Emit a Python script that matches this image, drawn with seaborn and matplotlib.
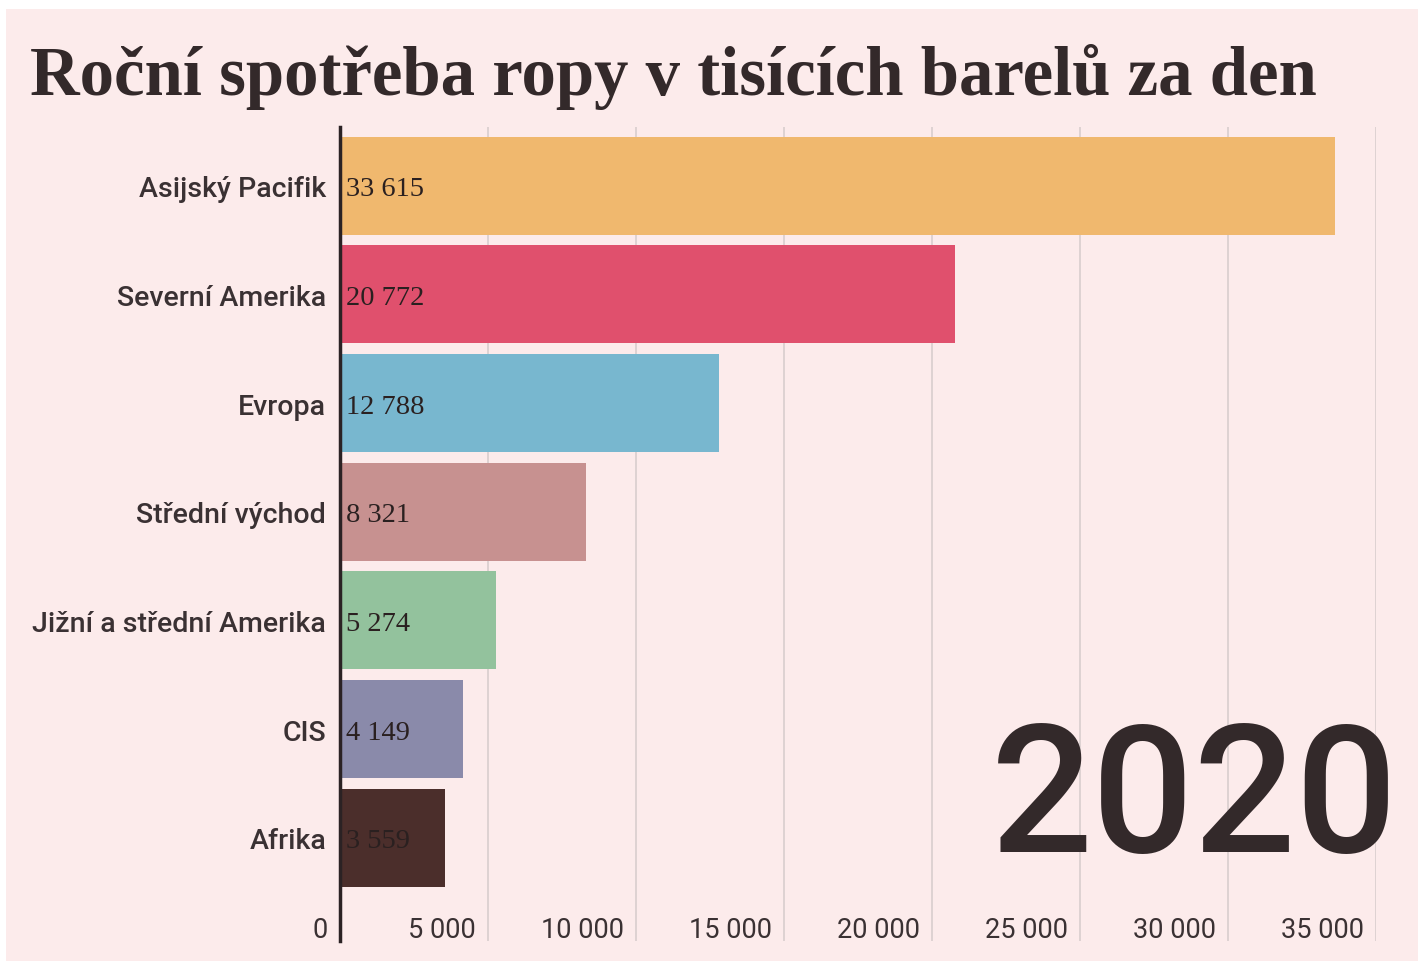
import matplotlib.pyplot as plt
import matplotlib.transforms as mtransforms
import seaborn as sns
import pandas as pd

regions = ["Asijský Pacifik", "Severní Amerika", "Evropa", "Střední východ",
           "Jižní a střední Amerika", "CIS", "Afrika"]
consumption = [33615, 20772, 12788, 8321, 5274, 4149, 3559]
bar_colors = ["#f0b86e", "#e0506d", "#78b7cf", "#c79190", "#93c29d", "#8a8aaa", "#4b2e2b"]
x_ticks = [0, 5000, 10000, 15000, 20000, 25000, 30000, 35000]
x_tick_labels = ["0", "5 000", "10 000", "15 000", "20 000", "25 000", "30 000", "35 000"]
year = "2020"
title = "Roční spotřeba ropy v tisících barelů za den"

df = pd.DataFrame({"region": regions, "value": consumption})

bg = "#fcebeb"
ink = "#33292a"

sns.set_theme(style="white")
plt.rcParams['font.family'] = ['Roboto', 'DejaVu Sans']

fig = plt.figure(figsize=(14.18, 9.62), dpi=100, facecolor="white")
fig.patches.append(plt.Rectangle((6 / 1418, 0), 1 - 6 / 1418, 1 - 10 / 962,
                                 transform=fig.transFigure, facecolor=bg,
                                 edgecolor="none", zorder=-10))

W, H = 1418, 962
ax = fig.add_axes([340 / W, 1 - 942 / H, 1036 / W, (942 - 128) / H])
ax.set_facecolor("none")

sns.barplot(data=df, x="value", y="region", hue="region", palette=bar_colors,
            legend=False, width=0.9, saturation=1, linewidth=0, ax=ax, zorder=2)

ax.set_xlim(0, 35000)
ax.set_ylim(6.95, -0.54)
ax.set_xlabel("")
ax.set_ylabel("")

for s in ["top", "right", "bottom"]:
    ax.spines[s].set_visible(False)
ax.spines["left"].set_color("#2b2224")
ax.spines["left"].set_linewidth(2.5)
ax.spines["left"].set_zorder(3)

ax.set_xticks(x_ticks)
ax.set_xticklabels(x_tick_labels)
ax.grid(axis="x", color="#d9cdcd", linewidth=1.2, zorder=0)
ax.xaxis.grid(True)
ax.yaxis.grid(False)
ax.tick_params(axis="x", length=0, pad=-18, labelsize=19.5, labelcolor="#3a3133")
ax.tick_params(axis="y", length=0, pad=10, labelsize=20.5, labelcolor="#3a3133")
for lbl in ax.get_yticklabels():
    lbl.set_fontweight("medium")
for lbl in ax.get_xticklabels():
    lbl.set_horizontalalignment("right")
    lbl.set_transform(lbl.get_transform() +
                      mtransforms.ScaledTranslation(-12 / 100, 0, fig.dpi_scale_trans))

for i, v in enumerate(consumption):
    ax.text(200, i, f"{v:,}".replace(",", " "), va="center_baseline", ha="left",
            family=["Liberation Serif", "DejaVu Serif"], fontsize=20.5,
            color="#2a2020", zorder=4)

fig.text(30 / W, 1 - 95 / H, title, ha="left", va="baseline",
         family=["Liberation Serif", "DejaVu Serif"], fontweight="bold",
         fontsize=49.5, color=ink)

fig.text(1398 / W, 1 - 852 / H, year, ha="right", va="baseline",
         family=["Roboto", "DejaVu Sans"], fontweight="medium",
         fontsize=129, color=ink, zorder=5)

fig.savefig("out.png", dpi=100, facecolor="white")
